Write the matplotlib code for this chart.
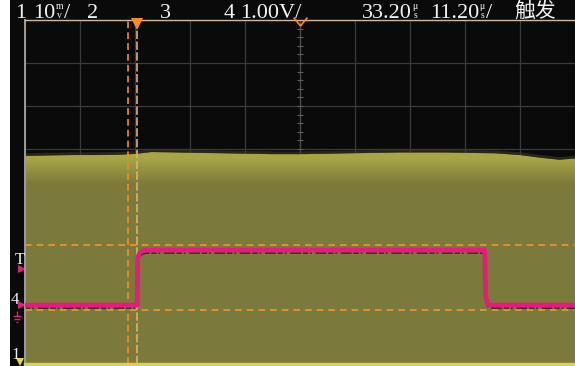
import numpy as np
import matplotlib.pyplot as plt
from matplotlib import transforms
from matplotlib.patches import Rectangle
from matplotlib.path import Path

W, H, DPI = 575, 366, 100
plt.rcParams['font.family'] = ['Liberation Serif', 'DejaVu Serif']

# timebase (us) and channel settings
T_DIV = 11.20
T_POS = 33.20
CH1_SCALE = 10.0      # mV/div
CH1_OFFSET = -4.0     # div
CH4_SCALE = 1.00      # V/div
CH4_OFFSET = -2.63    # div
TRIG_LEVEL = 0.84     # V

# channel 1: upper envelope of the noise band (us, mV)
ch1_t = [-22.8, -18, -13, -8, -3, 0, 3, 8, 13, 18, 23, 28, 33, 38, 43,
         48, 53, 58, 63, 68, 73, 78, 82, 86, 89.2]
ch1_top = [48.4, 48.5, 48.6, 48.6, 48.7, 48.9, 49.3, 49.2, 49.1, 49.0, 48.9,
           48.8, 48.8, 48.9, 49.0, 49.1, 49.2, 49.2, 49.2, 49.1, 49.0, 48.6,
           48.0, 47.5, 47.8]

# channel 4: pulse (us, V)
ch4_t = [-22.8, 0.05, 0.15, 0.5, 1.0, 1.8, 70.8, 71.0, 71.5, 89.2]
ch4_v = [0.0, 0.0, 1.10, 1.20, 1.25, 1.28, 1.28, 0.20, 0.0, 0.0]

# cursors
cursor_t = [-1.8]
cursor_v = [1.40, -0.12]

MAGENTA = '#e01e7c'
ORANGE = '#ff8a1e'
TXT = '#f2f2f2'

fig = plt.figure(figsize=(W / DPI, H / DPI), dpi=DPI, facecolor='white')

bg = fig.add_axes([0, 0, 1, 1], zorder=0)
bg.set_xlim(0, W)
bg.set_ylim(H, 0)
bg.axis('off')
bg.add_patch(Rectangle((10, 0), W - 10, H, color='#0a0a0a', lw=0))

ax = fig.add_axes([25 / W, 2 / H, 550 / W, 344 / H], zorder=1)
ax.set_facecolor('#0a0a0a')
xmin, xmax = T_POS - 5 * T_DIV, T_POS + 5 * T_DIV
ax.set_xlim(xmin, xmax)
ax.set_ylim(-4, 4)
ax.set_xticks(xmin + np.arange(11) * T_DIV)
ax.set_yticks(np.arange(-4, 5))
ax.set_axisbelow(True)
ax.grid(color='#3a3a3a', lw=0.9)
ax.tick_params(length=0, labelbottom=False, labelleft=False)
for s in ax.spines.values():
    s.set_visible(False)
ax.spines['top'].set_visible(True)
ax.spines['top'].set_color('#cdb6a2')
ax.spines['top'].set_linewidth(1.0)
ax.spines['left'].set_visible(True)
ax.spines['left'].set_color('#9c9c9c')
ax.spines['left'].set_linewidth(1.4)
ax.spines['bottom'].set_visible(True)
ax.spines['bottom'].set_color('#d6d24e')
ax.spines['bottom'].set_linewidth(2.5)

# centre graticule axis with minor ticks
ax.axvline(T_POS, color='#4a4a4a', lw=0.9, zorder=0.6)
ax.plot([T_POS] * 40, np.arange(-4, 4, 0.2), ls='none', marker='_', ms=4,
        mew=0.8, color='#5c5c5c', zorder=0.6)

# channel 1 noise band with a brighter crest
ch1_div = np.array(ch1_top) / CH1_SCALE + CH1_OFFSET
band = ax.fill_between(ch1_t, -4, ch1_div, color='#7e7c3a', lw=0, zorder=1)
ys = np.linspace(-4, 1.0, 300)
crest = np.clip((ys - 0.2) / 0.6, 0, 1)[:, None]
base = np.array([0.49, 0.48, 0.23])
top = np.array([0.66, 0.65, 0.28])
img = (base + (top - base) * crest)[:, None, :].repeat(2, axis=1)
im = ax.imshow(img, extent=(xmin, xmax, -4, 1.0), origin='lower',
               aspect='auto', zorder=1.1, interpolation='bilinear')
im.set_clip_path(band.get_paths()[0], ax.transData)
ax.plot(ch1_t, ch1_div + 0.03, color='#3c3c20', lw=2.0, alpha=0.6, zorder=1.2)
ax.set_xlim(xmin, xmax)
ax.set_ylim(-4, 4)

# cursors and trigger position
for t in cursor_t:
    ax.axvline(t, color=ORANGE, lw=1.2, dashes=(4, 2.5), zorder=2)
ax.axvline(0, color='#d9b277', lw=1.2, dashes=(5, 1.5), zorder=2)
for v in cursor_v:
    ax.axhline(v / CH4_SCALE + CH4_OFFSET, color='#f0952e', lw=1.2,
               dashes=(4, 3), zorder=2)

# channel 4 trace
ch4_div = np.array(ch4_v) / CH4_SCALE + CH4_OFFSET
shift = transforms.ScaledTranslation(0, -3 / DPI, fig.dpi_scale_trans)
ax.plot(ch4_t, ch4_div, color='#4a2a2c', lw=1.3, dashes=(3, 1, 1, 2, 6, 1),
        transform=ax.transData + shift, zorder=2.5)
ax.plot(ch4_t, ch4_div, color=MAGENTA, lw=3.4, zorder=3,
        solid_joinstyle='round')

# top markers: trigger position and horizontal position
ax.plot([0], [3.9], marker='v', ms=8, color=ORANGE, mew=0, clip_on=False,
        zorder=5)
chevron = Path([(-1, 1), (0, -0.2), (1, 1)],
               [Path.MOVETO, Path.LINETO, Path.LINETO])
ax.plot([T_POS], [3.9], marker=chevron, ms=10, mfc='none', mec=ORANGE,
        mew=1.2, clip_on=False, zorder=5)

# left-hand channel markers
blend = transforms.blended_transform_factory(ax.transAxes, ax.transData)
ax.plot([-0.006], [TRIG_LEVEL / CH4_SCALE + CH4_OFFSET], marker='>', ms=6,
        color=MAGENTA, mew=0, transform=blend, clip_on=False)
ax.annotate('T', (-0.010, TRIG_LEVEL / CH4_SCALE + CH4_OFFSET),
            xycoords=blend, textcoords='offset pixels', xytext=(0, 9),
            ha='center', va='center', color=TXT, fontsize=12)
ax.plot([-0.006], [CH4_OFFSET], marker='>', ms=6, color=MAGENTA, mew=0,
        transform=blend, clip_on=False)
ax.annotate('4', (-0.018, CH4_OFFSET), xycoords=blend,
            textcoords='offset pixels', xytext=(0, 5), ha='center',
            va='center', color=TXT, fontsize=12)
ground = Path([(0, 0), (0, -0.45), (-0.35, -0.45), (0.35, -0.45),
               (-0.22, -0.7), (0.22, -0.7), (-0.09, -0.95), (0.09, -0.95)],
              [Path.MOVETO, Path.LINETO, Path.MOVETO, Path.LINETO,
               Path.MOVETO, Path.LINETO, Path.MOVETO, Path.LINETO])
ax.plot([-0.0145], [CH4_OFFSET - 0.13], marker=ground, ms=16, mfc='none',
        mec=MAGENTA, mew=1.0, transform=blend, clip_on=False)
ax.plot([-0.009], [CH1_OFFSET + 0.05], marker='v', ms=6, color='#e8d83a',
        mew=0, transform=blend, clip_on=False)
ax.annotate('1', (-0.017, CH1_OFFSET), xycoords=blend,
            textcoords='offset pixels', xytext=(0, 9), ha='center',
            va='center', color=TXT, fontsize=12)

# header readout
hd = fig.add_axes([0, 0, 1, 1], zorder=3)
hd.set_xlim(0, W)
hd.set_ylim(H, 0)
hd.axis('off')
hd.patch.set_alpha(0)
renderer = fig.canvas.get_renderer()
BASE = 18


def readout(x, s, size=16):
    t = hd.text(x, BASE, s, color=TXT, fontsize=size, va='baseline')
    return t.get_window_extent(renderer).x1


def unit(x, sup, sub):
    a = hd.text(x, 9, sup, color=TXT, fontsize=7, va='baseline')
    b = hd.text(x + 1, 18, sub, color=TXT, fontsize=7, va='baseline')
    return max(a.get_window_extent(renderer).x1,
               b.get_window_extent(renderer).x1)


readout(15, '1')
x = unit(readout(33, '10') + 0.5, 'm', 'v')
readout(x + 1, '/')
readout(87, '2')
readout(160, '3')
readout(224, '4')
readout(240, '1.00V/')
unit(readout(362, '33.20') + 0.5, 'μ', 's')
x = unit(readout(430, '11.20') + 0.5, 'μ', 's')
readout(x + 1, '/')
hd.text(514, BASE - 1, '触发', color=TXT, fontsize=15, va='baseline',
        family=['Noto Sans CJK SC', 'DejaVu Sans'], fontweight='light')

fig.savefig('out.png', dpi=DPI, facecolor='white')
